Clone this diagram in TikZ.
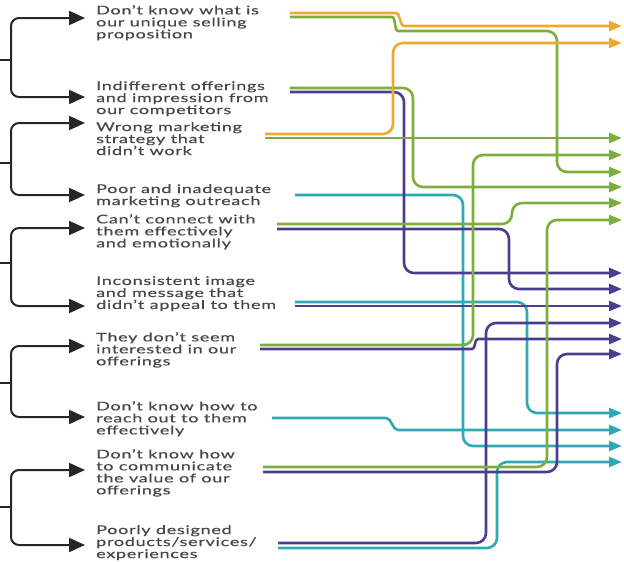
\documentclass[tikz,border=0pt]{standalone}
\usepackage{fontspec}
\setmainfont[FakeStretch=1.5,LetterSpace=6,FakeBold=0.5]{Lato}
\usetikzlibrary{arrows.meta}
\definecolor{ink}{HTML}{474747}
\definecolor{orng}{HTML}{F0A832}
\definecolor{grn}{HTML}{7BAF3B}
\definecolor{purp}{HTML}{4B3E8E}
\definecolor{teal}{HTML}{2EAAB6}
\tikzset{
  brk/.style={line width=2pt,color=black!85,rounded corners=8pt},
  bigtip/.style={{Triangle[length=16pt,width=14pt]}-{Triangle[length=16pt,width=14pt]}},
  route/.style={line width=2.6pt,rounded corners=10pt,-{Triangle[length=13pt,width=10pt]}},
  reason/.style={anchor=north west,inner sep=0pt,align=left,text=ink,font=\fontsize{12}{12}\selectfont}
}

\begin{document}
\begin{tikzpicture}[x=1pt,y=-1pt]
  \useasboundingbox (0,0) rectangle (624,562);

  % reasons
  \node[reason] (why1) at (96,5) {Don’t know what is\\our unique selling\\proposition};
  \node[reason] (why2) at (96,81) {Indifferent offerings\\and impression from\\our competitors};
  \node[reason] (why3) at (96,122) {Wrong marketing\\strategy that\\didn’t work};
  \node[reason] (why4) at (96,184) {Poor and inadequate\\marketing outreach};
  \node[reason] (why5) at (96,214) {Can’t connect with\\them effectively\\and emotionally};
  \node[reason] (why6) at (96,276) {Inconsistent image\\and message that\\didn’t appeal to them};
  \node[reason] (why7) at (96,332) {They don’t seem\\interested in our\\offerings};
  \node[reason] (why8) at (96,401) {Don’t know how to\\reach out to them\\effectively};
  \node[reason] (why9) at (96,449) {Don’t know how\\to communicate\\the value of our\\offerings};
  \node[reason] (why10) at (96,525) {Poorly designed\\products/services/\\experiences};

  % brackets on the left
  \foreach \g/\ya/\ym/\yb in {1/18/60/97,2/123/163/195,3/228/263/306,4/346/383/417,5/470/507/545} {
    \coordinate (up\g) at (85,\ya);
    \coordinate (dn\g) at (85,\yb);
    \coordinate (fork\g) at (11,\ym);
    \draw[brk,bigtip] (up\g) -| (fork\g) |- (dn\g);
    \draw[brk] (0,\ym) -- (fork\g);
  }

  % arrow ends on the right
  \foreach \n/\y in {1/26,2/43,3/138,4/155,5/172,6/187,7/203,8/220,9/273,10/289,11/306,12/323,13/339,14/354,15/413,16/430,17/446,18/462}
    \coordinate (out\n) at (622,\y);

  % routes
  \draw[route,teal] (295,195) -- (463,195) -- (463,446) -- (out17);
  \draw[route,teal] (295,302) -- (527,302) -- (527,413) -- (out15);
  \draw[route,teal] (272,418) -- (376,418) .. controls (392,418) and (392,430) .. (408,430) -- (out16);
  \draw[route,teal] (278,548) -- (497,548) -- (497,462) -- (out18);

  \draw[route,purp] (290,92) -- (404,92) -- (404,273) -- (out9);
  \draw[route,purp] (277,229) -- (509,229) -- (509,289) -- (out10);
  \draw[route,purp] (295,306) -- (out11);
  \draw[route,purp] (260,349) -- (462,349) .. controls (476,349) and (474,339) .. (488,339) -- (out13);
  \draw[route,purp] (263,472) -- (557,472) -- (557,354) -- (out14);
  \draw[route,purp] (278,543) -- (486,543) -- (486,323) -- (out12);

  \draw[route,grn] (290,17) -- (382,17) .. controls (396,17) and (394,31) .. (408,31) -- (557,31) -- (557,172) -- (out5);
  \draw[route,grn] (290,88) -- (413,88) -- (413,187) -- (out6);
  \draw[route,grn] (265,138) -- (out3);
  \draw[route,grn] (277,224) -- (512,224) -- (512,203) -- (out7);
  \draw[route,grn] (260,345) -- (473,345) -- (473,155) -- (out4);
  \draw[route,grn] (263,467) -- (547,467) -- (547,220) -- (out8);

  \draw[route,orng] (290,13) -- (386,13) .. controls (400,13) and (400,26) .. (414,26) -- (out1);
  \draw[route,orng] (265,134) -- (393,134) -- (393,43) -- (out2);
\end{tikzpicture}
\end{document}
